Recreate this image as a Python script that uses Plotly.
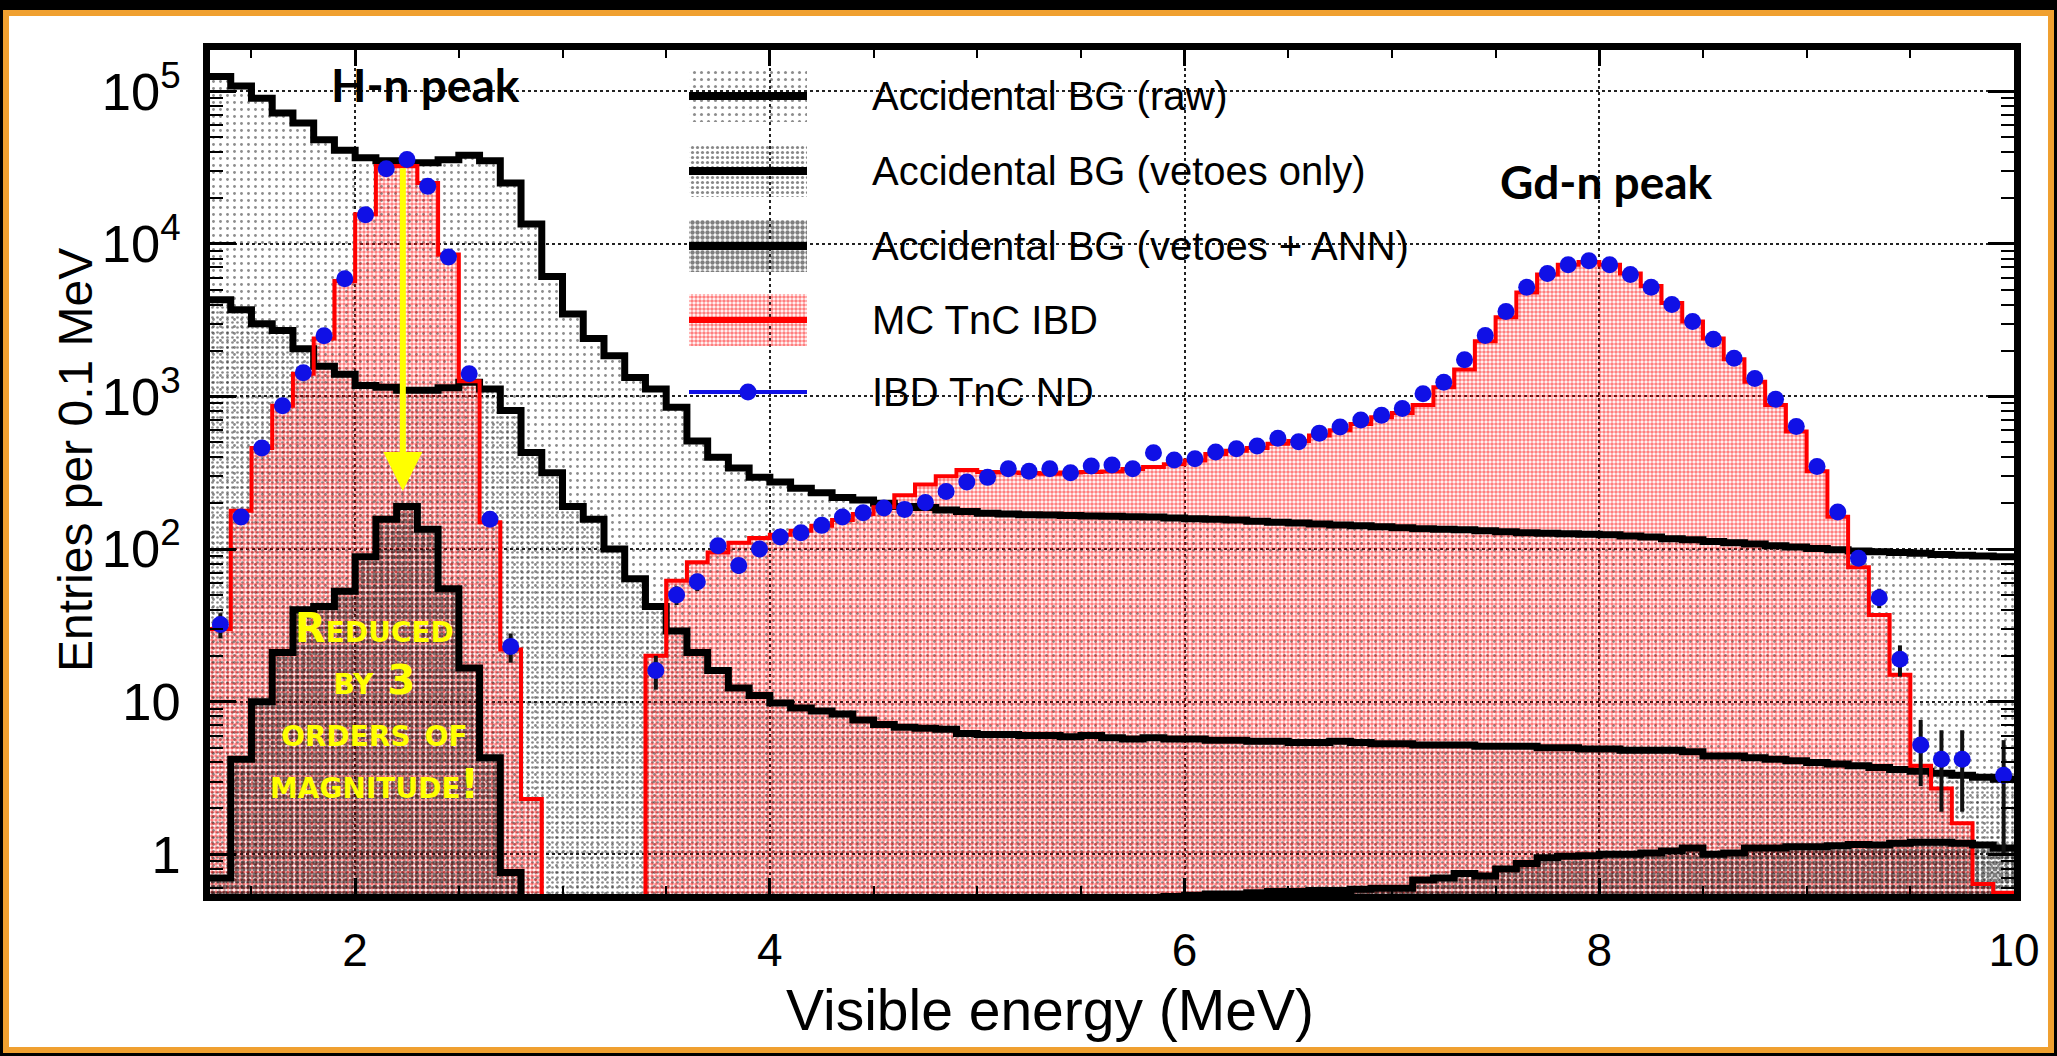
import numpy as np
import plotly.graph_objects as go

# ---------------- data (0.1 MeV bins from 1.3 to 10.0 MeV) ----------------
bin_low = 1.3
bin_width = 0.1
n_bins = 87

# Accidental BG (raw)
raw_bg = [125000, 108000, 90000, 72000, 62000, 48000, 41000, 36700, 35000, 34000,
          34000, 35600, 38000, 35000, 25000, 13500, 6100, 3470, 2400, 1850,
          1330, 1120, 850, 510, 400, 340, 296, 275, 250, 234,
          218, 210, 200, 190, 187, 180, 176, 172, 170, 168,
          167, 166, 165, 164, 163, 162, 160, 158, 157, 155,
          152, 150, 148, 146, 144, 142, 140, 138, 136, 135,
          134, 132, 130, 128, 127, 126, 125, 124, 122, 120,
          117, 115, 112, 110, 108, 105, 103, 101, 99, 97,
          96, 95, 94, 92, 91, 90, 89]

# Accidental BG (vetoes only)
veto_bg = [4300, 3700, 3000, 2700, 2050, 1580, 1400, 1180, 1150, 1100,
           1100, 1140, 1240, 1120, 810, 430, 316, 190, 157, 100,
           64, 42, 29, 21, 16, 12.3, 11, 9.8, 9.1, 8.7,
           8.3, 7.6, 7.1, 6.8, 6.7, 6.6, 6.2, 6.1, 6.1, 6.0,
           6.0, 5.9, 6.0, 5.8, 5.7, 5.8, 5.7, 5.7, 5.6, 5.6,
           5.5, 5.5, 5.4, 5.4, 5.5, 5.4, 5.3, 5.3, 5.2, 5.2,
           5.2, 5.1, 5.1, 5.1, 5.0, 5.0, 4.9, 4.9, 4.8, 4.8,
           4.8, 4.7, 4.4, 4.4, 4.3, 4.2, 4.1, 4.0, 3.9, 3.8,
           3.7, 3.6, 3.5, 3.4, 3.3, 3.2, 3.1]

# Accidental BG (vetoes + ANN)
ann_bg = [0.7, 4.2, 10, 21, 40, 42, 53, 89, 157, 190,
          135, 55, 16.6, 4.3, 0.76, 0, 0, 0, 0, 0,
          0, 0, 0, 0, 0, 0, 0, 0, 0, 0,
          0, 0, 0, 0, 0, 0, 0, 0, 0, 0.48,
          0.49, 0.5, 0.5, 0.51, 0.52, 0.52, 0.53, 0.54, 0.55, 0.55,
          0.56, 0.57, 0.57, 0.58, 0.58, 0.59, 0.6, 0.6, 0.68, 0.7,
          0.75, 0.72, 0.8, 0.87, 0.95, 0.97, 0.98, 1.0, 1.0, 1.02,
          1.05, 1.1, 1.0, 1.02, 1.1, 1.1, 1.12, 1.12, 1.14, 1.16,
          1.15, 1.18, 1.2, 1.2, 1.18, 1.15, 1.1]

# MC TnC IBD
mc_ibd = [30, 178, 460, 870, 1410, 2400, 5700, 15600, 32400, 32400,
          25000, 8500, 1260, 150, 22, 2.3, 0, 0, 0, 0,
          0, 20, 62, 82, 95, 110, 118, 124, 132, 142,
          155, 170, 188, 225, 265, 300, 330, 320, 318, 315,
          312, 318, 320, 322, 335, 345, 360, 380, 420, 440,
          460, 490, 510, 555, 600, 660, 730, 780, 880, 1150,
          1500, 2300, 3300, 4800, 6300, 7300, 7600, 7300, 6400, 5300,
          4100, 3100, 2400, 1750, 1250, 880, 590, 323, 163, 76,
          37, 15, 3.8, 2.7, 1.6, 0.64, 0.56]

# IBD TnC ND (data points) and their errors
nd_data = [32, 162, 460, 870, 1430, 2500, 5900, 15500, 31000, 35700,
           23800, 8200, 1410, 157, 23, 0, 0, 0, 0, 0,
           0, 16, 50, 61, 105, 78, 100, 120, 128, 143,
           162, 173, 186, 182, 202, 238, 275, 295, 336, 323,
           336, 316, 350, 355, 336, 427, 384, 390, 433, 455,
           473, 533, 505, 575, 630, 700, 753, 835, 1040, 1240,
           1740, 2510, 3600, 5200, 6390, 7300, 7760, 7300, 6300, 5200,
           4000, 3100, 2370, 1780, 1310, 960, 635, 348, 175, 87,
           48, 19, 5.2, 4.2, 4.2, 0, 3.3]
nd_err = [6, 13, 21, 30, 38, 50, 77, 125, 176, 189,
          154, 91, 38, 13, 5, 0, 0, 0, 0, 0,
          0, 4, 7, 8, 10, 9, 10, 11, 11, 12,
          13, 13, 14, 14, 14, 15, 17, 17, 18, 18,
          18, 18, 19, 19, 18, 21, 20, 20, 21, 21,
          22, 23, 22, 24, 25, 26, 27, 29, 32, 35,
          42, 50, 60, 72, 80, 85, 88, 85, 79, 72,
          63, 56, 49, 42, 36, 31, 25, 19, 13, 9,
          7, 4.4, 2.4, 2.3, 2.3, 0, 2.3]

legend_labels = ["Accidental BG (raw)", "Accidental BG (vetoes only)",
                 "Accidental BG (vetoes + ANN)", "MC TnC IBD", "IBD TnC ND"]

# ---------------- geometry ----------------
W, H = 2057, 1056
ML, MR, MT, MB = 210, 43, 50, 162
PW, PH = W - ML - MR, H - MT - MB


def px(x):
    return (x - ML) / PW


def py(y):
    return 1 - (y - MT) / PH


edges = bin_low + bin_width * np.arange(n_bins + 1)
centers = edges[:-1] + bin_width / 2


def step(vals, floor=1e-3):
    v = np.array(vals, dtype=float)
    v = np.where(v > 0, v, floor)
    return edges, np.append(v, v[-1])


CLEAR = "rgba(255,255,255,0)"
pat_raw = dict(shape=".", fgcolor="#1a1a1a", bgcolor=CLEAR, size=7, solidity=0.13)
pat_veto = dict(shape=".", fgcolor="#111111", bgcolor=CLEAR, size=5, solidity=0.22)
pat_mc = dict(shape=".", fgcolor="#ff0000", bgcolor=CLEAR, size=4, solidity=0.62)
pat_ann = dict(shape=".", fgcolor="#000000", bgcolor=CLEAR, size=6, solidity=0.55)
BLUE = "#1010e6"

fig = go.Figure()

# fills
for vals, pat in [(raw_bg, pat_raw), (veto_bg, pat_veto), (mc_ibd, pat_mc), (ann_bg, pat_ann)]:
    ex, ey = step(vals)
    fig.add_trace(go.Scatter(x=ex, y=ey, mode="lines", line=dict(width=0, shape="hv"),
                             fill="tozeroy", fillcolor=CLEAR, fillpattern=pat,
                             hoverinfo="skip", showlegend=False))

# outlines
for vals, col, w in [(raw_bg, "black", 7), (veto_bg, "black", 7), (mc_ibd, "#ff0000", 4), (ann_bg, "black", 7)]:
    ex, ey = step(vals)
    fig.add_trace(go.Scatter(x=ex, y=ey, mode="lines", line=dict(color=col, width=w, shape="hv"),
                             hoverinfo="skip", showlegend=False))

# data points
d = np.array(nd_data, dtype=float)
e = np.array(nd_err, dtype=float)
m = d > 0
fig.add_trace(go.Scatter(x=centers[m], y=d[m], mode="markers",
                         marker=dict(color=BLUE, size=17, line=dict(width=0)),
                         error_y=dict(type="data", array=e[m], color="#111111", thickness=4, width=0),
                         hoverinfo="skip", showlegend=False))

# ---------------- custom legend (subplot 2, pixel coordinates) ----------------
LX0, LX1, LY0, LY1 = 670, 1500, 55, 430
rows = [96, 171, 246, 320, 392]
patch_x0, patch_x1, patch_h = 689, 807, 52
patch_c = (patch_x0 + patch_x1) / 2
legend_pats = [dict(shape=".", fgcolor="#1a1a1a", bgcolor=CLEAR, size=7, solidity=0.15),
               dict(shape=".", fgcolor="#111111", bgcolor=CLEAR, size=5, solidity=0.32),
               dict(shape=".", fgcolor="#000000", bgcolor=CLEAR, size=5, solidity=0.62),
               dict(shape=".", fgcolor="#ff0000", bgcolor=CLEAR, size=4, solidity=0.62)]
for r, pat in zip(rows[:4], legend_pats):
    fig.add_trace(go.Bar(x=[patch_c], y=[patch_h], base=[r - patch_h / 2], width=[patch_x1 - patch_x0],
                         marker=dict(color=CLEAR, pattern=pat, line=dict(width=0)),
                         xaxis="x2", yaxis="y2", hoverinfo="skip", showlegend=False))
for r, col, w in zip(rows, ["black", "black", "black", "#ff0000", BLUE], [8, 8, 8, 6, 4]):
    fig.add_trace(go.Scatter(x=[patch_x0, patch_x1], y=[r, r], mode="lines", line=dict(color=col, width=w),
                             xaxis="x2", yaxis="y2", hoverinfo="skip", showlegend=False))
fig.add_trace(go.Scatter(x=[patch_c], y=[rows[4]], mode="markers", marker=dict(color=BLUE, size=17),
                         xaxis="x2", yaxis="y2", hoverinfo="skip", showlegend=False))

annotations = []
for r, lab in zip(rows, legend_labels):
    annotations.append(dict(x=870, y=r, xref="x2", yref="y2", text=lab, showarrow=False,
                            xanchor="left", yanchor="middle",
                            font=dict(family="Liberation Sans", size=40, color="black")))

# peaks labels
annotations.append(dict(x=px(425), y=py(84), xref="paper", yref="paper", text="<b>H-n peak</b>",
                        showarrow=False, xanchor="center", yanchor="middle",
                        font=dict(family="Lato", size=46, color="black")))
annotations.append(dict(x=px(1606), y=py(182), xref="paper", yref="paper", text="<b>Gd-n peak</b>",
                        showarrow=False, xanchor="center", yanchor="middle",
                        font=dict(family="Lato", size=46, color="black")))

# yellow arrow
annotations.append(dict(x=2.23, y=np.log10(240), ax=2.23, ay=np.log10(32000), xref="x", yref="y",
                        axref="x", ayref="y", text="", showarrow=True, arrowhead=2, arrowsize=1.3,
                        arrowwidth=6, arrowcolor="#ffff00", standoff=0))

# yellow text (one multi-line text block)
annotations.append(dict(x=px(374), y=py(706), xref="paper", yref="paper",
                        text="Reduced<br>by 3<br>orders of<br>magnitude!", showarrow=False,
                        xanchor="center", yanchor="middle", align="center",
                        font=dict(family="DejaVu Sans", size=40, color="#ffff00", weight="bold",
                                  variant="small-caps")))

# axis titles
annotations.append(dict(x=px(1050), y=py(1010), xref="paper", yref="paper", text="Visible energy (MeV)",
                        showarrow=False, xanchor="center", yanchor="middle",
                        font=dict(family="Liberation Sans", size=57, color="black")))
annotations.append(dict(x=px(76), y=py(460), xref="paper", yref="paper", text="Entries per 0.1 MeV",
                        textangle=-90, showarrow=False, xanchor="center", yanchor="middle",
                        font=dict(family="Liberation Sans", size=48, color="black")))

shapes = [dict(type="rect", xref="paper", yref="paper", x0=px(6), x1=px(W - 6), y0=py(H - 6), y1=py(13),
               fillcolor="white", line=dict(color="#f0a030", width=6), layer="below")]

axis_common = dict(showline=True, linewidth=7, linecolor="black", mirror="allticks",
                   ticks="inside", tickcolor="black", showgrid=True, gridcolor="#222222",
                   griddash="dot", gridwidth=2, zeroline=False)

fig.update_layout(
    width=W, height=H, autosize=False,
    margin=dict(l=ML, r=MR, t=MT, b=MB, pad=0),
    paper_bgcolor="black", plot_bgcolor="rgba(255,255,255,0)",
    barmode="overlay", bargap=0,
    showlegend=False,
    xaxis=dict(range=[1.3, 10], dtick=2, tick0=0, ticklen=16, tickwidth=3,
               minor=dict(dtick=0.5, tick0=0, ticks="inside", ticklen=8, tickwidth=2, tickcolor="black",
                          showgrid=False),
               tickfont=dict(family="Liberation Sans", size=46, color="black"),
               ticklabelstandoff=10, **axis_common),
    yaxis=dict(type="log", range=[-0.26, 5.27], dtick=1, exponentformat="power", ticklen=26, tickwidth=3,
               minor=dict(dtick="D1", ticks="inside", ticklen=13, tickwidth=2, tickcolor="black",
                          showgrid=False),
               tickfont=dict(family="Liberation Sans", size=42, color="black"),
               ticklabelstandoff=14, **axis_common),
    xaxis2=dict(domain=[px(LX0), px(LX1)], range=[LX0, LX1], visible=False, anchor="y2", fixedrange=True),
    yaxis2=dict(domain=[py(LY1), py(LY0)], range=[LY1, LY0], visible=False, anchor="x2", fixedrange=True),
    annotations=annotations,
    shapes=shapes,
)

fig.write_html("out.html")
